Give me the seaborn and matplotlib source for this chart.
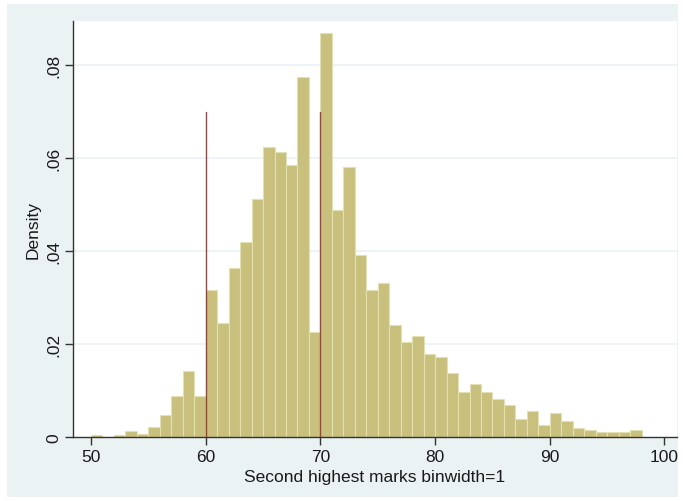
import numpy as np
import pandas as pd
import matplotlib
matplotlib.use("Agg")
import matplotlib.pyplot as plt
import seaborn as sns
from matplotlib.patches import Rectangle

# Data: bin left edges (width 1) and density heights
bin_lefts = list(range(50, 98))
densities = [0.0004, 0.0, 0.0004, 0.0013, 0.0006, 0.0021, 0.0048, 0.0088, 0.0142, 0.0088,
             0.0316, 0.0245, 0.0363, 0.0420, 0.0512, 0.0623, 0.0613, 0.0586, 0.0775, 0.0225,
             0.0869, 0.0489, 0.0581, 0.0392, 0.0316, 0.0331, 0.0241, 0.0205, 0.0218, 0.0179,
             0.0172, 0.0137, 0.0097, 0.0115, 0.0097, 0.0081, 0.0068, 0.0038, 0.0056, 0.0026,
             0.0052, 0.0034, 0.0019, 0.0014, 0.0011, 0.0011, 0.0011, 0.0014]
ref_lines_x = [60, 70]
ref_line_top = 0.07
x_ticks = [50, 60, 70, 80, 90, 100]
y_ticks = [0, 0.02, 0.04, 0.06, 0.08]
y_tick_labels = ["0", ".02", ".04", ".06", ".08"]

df = pd.DataFrame({"mark": [b + 0.5 for b in bin_lefts], "density": densities})
bin_edges = bin_lefts + [bin_lefts[-1] + 1]

sns.set_style("white")
plt.rcParams["font.family"] = ["Liberation Sans", "DejaVu Sans"]

W, H = 683, 502
fig = plt.figure(figsize=(W / 100, H / 100), dpi=100, facecolor="white")
bg = "#eaf2f3"
fig.patches.append(Rectangle((7 / W, 1 - 498 / H), (678 - 7) / W, (498 - 5) / H,
                             transform=fig.transFigure, facecolor=bg, edgecolor="none", zorder=-10))

left, right, top, bottom = 73, 677, 22, 438
ax = fig.add_axes([left / W, 1 - bottom / H, (right - left) / W, (bottom - top) / H])
ax.set_facecolor("white")

for y in y_ticks[1:]:
    ax.axhline(y, color=bg, lw=1.2, zorder=0)

sns.histplot(data=df, x="mark", weights="density", bins=bin_edges, stat="count",
             color="#c8c07c", edgecolor="#e4e0b4", linewidth=0.8, alpha=1, ax=ax)

for xv in ref_lines_x:
    ax.plot([xv, xv], [0, ref_line_top], color="#a0403f", lw=1.0, zorder=3)

fs = 12.5
ax.set_xlim(48.43, 101.09)
ax.set_ylim(0, 0.0895)
ax.set_xticks(x_ticks)
ax.set_xticklabels([str(v) for v in x_ticks], fontsize=fs)
ax.set_yticks(y_ticks)
ax.set_yticklabels(y_tick_labels, fontsize=fs, rotation=90, va="center")
ax.tick_params(axis="both", direction="out", length=6, width=1, color="#333333",
               labelcolor="#1a1a1a", left=True, bottom=True, pad=2.5)
for s in ["top", "right"]:
    ax.spines[s].set_visible(False)
for s in ["left", "bottom"]:
    ax.spines[s].set_color("#333333")
    ax.spines[s].set_linewidth(1.0)
ax.set_xlabel("Second highest marks binwidth=1", fontsize=fs, color="#1a1a1a", labelpad=4)
ax.set_ylabel("Density", fontsize=fs, color="#1a1a1a", labelpad=4)

fig.savefig("out.png", dpi=100, facecolor=fig.get_facecolor())
